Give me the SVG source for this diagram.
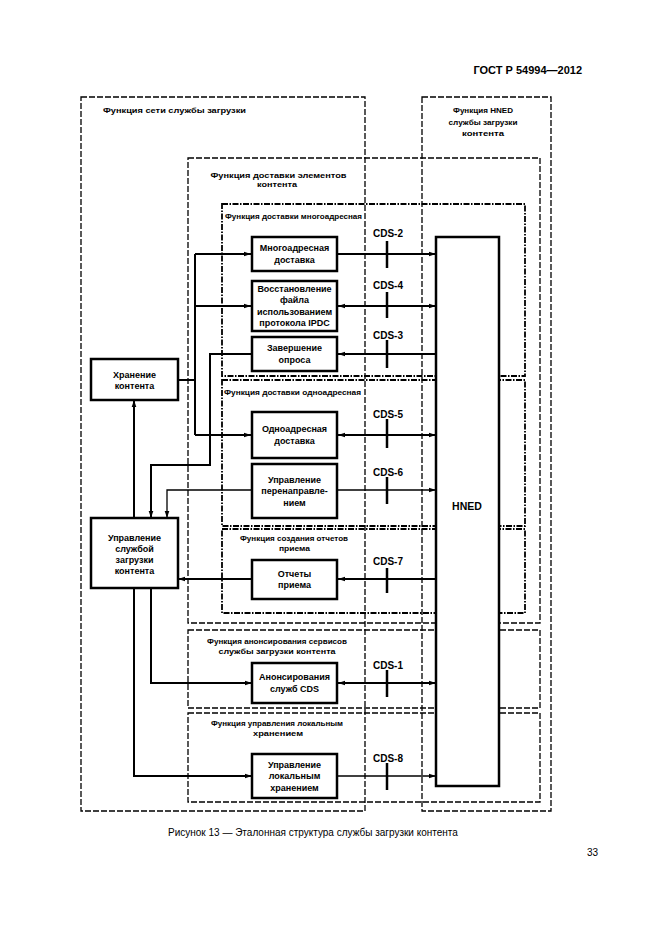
<svg xmlns="http://www.w3.org/2000/svg" width="661" height="935" viewBox="0 0 661 935">
<style>
text{font-family:"Liberation Sans",Arial,sans-serif;fill:#000}
.b{font-weight:bold}
.t{font-size:7.5px;font-weight:bold}
.m{text-anchor:middle}
.bx{font-size:9px;font-weight:bold;text-anchor:middle}
.cds{font-size:10px;font-weight:bold;text-anchor:middle}
.fa{fill:none;stroke:#000;stroke-width:1.3;stroke-dasharray:6 2}
.fb{fill:none;stroke:#000;stroke-width:1.8;stroke-dasharray:6 1.5 1.5 1.5}
.node{fill:#fff;stroke:#000;stroke-width:2.5}
.c{fill:none;stroke:#000;stroke-width:2}
.ct{fill:none;stroke:#000;stroke-width:1.3}
.tick{stroke:#000;stroke-width:2.5}
</style>
<defs>
<marker id="ah" markerUnits="userSpaceOnUse" markerWidth="8" markerHeight="6" refX="7" refY="3" orient="auto-start-reverse">
<path d="M0,0.7 L7,3 L0,5.3 Z" fill="#000"/>
</marker>
</defs>
<rect width="661" height="935" fill="#fff"/>
<text class="b" x="582" y="74" font-size="11" text-anchor="end">ГОСТ Р 54994—2012</text>

<g id="frames">
<rect class="fa" x="81" y="97" width="284" height="714"/>
<rect class="fa" x="422" y="97" width="129" height="714"/>
<rect class="fa" x="188" y="158" width="352" height="465"/>
<rect class="fb" x="222" y="204" width="303" height="172"/>
<rect class="fb" x="222" y="380" width="303" height="146"/>
<rect class="fb" x="222" y="529" width="303" height="84"/>
<rect class="fa" x="188" y="630" width="352" height="78"/>
<rect class="fa" x="188" y="713" width="352" height="89"/>
<text class="t" x="103" y="112.5" textLength="143" lengthAdjust="spacingAndGlyphs">Функция сети службы загрузки</text>
<text class="t m" x="483" y="113" font-size="8" textLength="60" lengthAdjust="spacingAndGlyphs">Функция HNED</text>
<text class="t m" x="483" y="125" textLength="69" lengthAdjust="spacingAndGlyphs">службы загрузки</text>
<text class="t m" x="483" y="136" textLength="42" lengthAdjust="spacingAndGlyphs">контента</text>
<text class="t m" x="278.5" y="177.5" textLength="136" lengthAdjust="spacingAndGlyphs">Функция доставки элементов</text>
<text class="t m" x="277" y="187" textLength="40" lengthAdjust="spacingAndGlyphs">контента</text>
<text class="t" x="225" y="218.5" textLength="137" lengthAdjust="spacingAndGlyphs">Функция доставки многоадресная</text>
<text class="t" x="224" y="394.5" textLength="137" lengthAdjust="spacingAndGlyphs">Функция доставки одноадресная</text>
<text class="t m" x="294" y="540.5" textLength="108" lengthAdjust="spacingAndGlyphs">Функция создания отчетов</text>
<text class="t m" x="294.5" y="550.5" textLength="31" lengthAdjust="spacingAndGlyphs">приема</text>
<text class="t m" x="277" y="643.5" textLength="140" lengthAdjust="spacingAndGlyphs">Функция анонсирования сервисов</text>
<text class="t m" x="277" y="653.5" textLength="117" lengthAdjust="spacingAndGlyphs">службы загрузки контента</text>
<text class="t m" x="277" y="725.5" textLength="132" lengthAdjust="spacingAndGlyphs">Функция управления локальным</text>
<text class="t m" x="278" y="735.5" textLength="50" lengthAdjust="spacingAndGlyphs">хранением</text>
</g>

<g id="connectors">
<path class="c" d="M178,380 H195 M195,254 V435"/>
<path class="c" d="M195,254 H251" marker-end="url(#ah)"/>
<path class="c" d="M195,306 H251" marker-end="url(#ah)"/>
<path class="c" d="M195,435 H251" marker-end="url(#ah)"/>
<path class="c" d="M337,254 H436" marker-end="url(#ah)"/>
<path class="c" d="M338,306 H436" marker-start="url(#ah)" marker-end="url(#ah)"/>
<path class="c" d="M436,354 H338" marker-end="url(#ah)"/>
<path class="c" d="M252,354 H210 V465 H151 V518" marker-end="url(#ah)"/>
<path class="c" d="M338,435 H436" marker-start="url(#ah)" marker-end="url(#ah)"/>
<path class="ct" d="M337,490 H436" marker-end="url(#ah)"/>
<path class="ct" d="M252,490 H167 V518" marker-end="url(#ah)"/>
<path class="c" d="M436,579 H338" marker-end="url(#ah)"/>
<path class="c" d="M252,579 H178" marker-end="url(#ah)"/>
<path class="c" d="M134,518 V400" marker-end="url(#ah)"/>
<path class="c" d="M151,588 V683 H252" marker-end="url(#ah)"/>
<path class="c" d="M338,683 H436" marker-start="url(#ah)" marker-end="url(#ah)"/>
<path class="c" d="M134,588 V776 H252" marker-end="url(#ah)"/>
<path class="ct" d="M337,776 H436" marker-end="url(#ah)"/>
<line class="tick" x1="387" y1="241" x2="387" y2="268"/>
<line class="tick" x1="387" y1="292" x2="387" y2="318"/>
<line class="tick" x1="387" y1="340" x2="387" y2="368"/>
<line class="tick" x1="387" y1="419" x2="387" y2="448"/>
<line class="tick" x1="387" y1="477" x2="387" y2="504"/>
<line class="tick" x1="387" y1="568" x2="387" y2="593"/>
<line class="tick" x1="387" y1="670" x2="387" y2="697"/>
<line class="tick" x1="387" y1="763" x2="387" y2="790"/>
<text class="cds" x="388" y="236.5">CDS-2</text>
<text class="cds" x="388" y="288.5">CDS-4</text>
<text class="cds" x="388" y="338.5">CDS-3</text>
<text class="cds" x="388" y="417.5">CDS-5</text>
<text class="cds" x="388" y="475.5">CDS-6</text>
<text class="cds" x="388" y="564.5">CDS-7</text>
<text class="cds" x="388" y="668.5">CDS-1</text>
<text class="cds" x="388" y="761.5">CDS-8</text>
</g>

<g id="hned">
<rect class="node" x="436" y="237" width="63" height="549"/>
<text class="b" x="467" y="510" font-size="10.5" text-anchor="middle">HNED</text>
</g>
<g id="storage">
<rect class="node" x="91" y="359" width="87" height="41"/>
<text class="bx" x="134.5" y="378.3">Хранение</text>
<text class="bx" x="134.5" y="389.3">контента</text>
</g>
<g id="management">
<rect class="node" x="91" y="518" width="87" height="70"/>
<text class="bx" x="134.5" y="541.3">Управление</text>
<text class="bx" x="134.5" y="552.3">службой</text>
<text class="bx" x="134.5" y="563.3">загрузки</text>
<text class="bx" x="134.5" y="573.8">контента</text>
</g>
<g id="multicast">
<rect class="node" x="252" y="237" width="85" height="34"/>
<text class="bx" x="294.5" y="251.3">Многоадресная</text>
<text class="bx" x="294.5" y="262.8">доставка</text>
</g>
<g id="recovery">
<rect class="node" x="252" y="281" width="85" height="50"/>
<text class="bx" x="294.5" y="291.8">Восстановление</text>
<text class="bx" x="294.5" y="303.3">файла</text>
<text class="bx" x="294.5" y="314.8">использованием</text>
<text class="bx" x="294.5" y="326.3">протокола IPDC</text>
</g>
<g id="polling">
<rect class="node" x="252" y="337" width="85" height="34"/>
<text class="bx" x="294.5" y="351.3">Завершение</text>
<text class="bx" x="294.5" y="362.8">опроса</text>
</g>
<g id="unicast">
<rect class="node" x="252" y="412" width="85" height="46"/>
<text class="bx" x="294.5" y="432.3">Одноадресная</text>
<text class="bx" x="294.5" y="443.8">доставка</text>
</g>
<g id="redirect">
<rect class="node" x="252" y="464" width="85" height="54"/>
<text class="bx" x="294.5" y="482.6">Управление</text>
<text class="bx" x="294.5" y="494.1">перенаправле-</text>
<text class="bx" x="294.5" y="505.6">нием</text>
</g>
<g id="reports">
<rect class="node" x="252" y="560" width="85" height="39"/>
<text class="bx" x="294.5" y="576.8">Отчеты</text>
<text class="bx" x="294.5" y="588.3">приема</text>
</g>
<g id="announce">
<rect class="node" x="252" y="663" width="85" height="40"/>
<text class="bx" x="294.5" y="680.3">Анонсирования</text>
<text class="bx" x="294.5" y="691.8">служб CDS</text>
</g>
<g id="localstorage">
<rect class="node" x="252" y="754" width="85" height="44"/>
<text class="bx" x="294.5" y="767.6">Управление</text>
<text class="bx" x="294.5" y="779.1">локальным</text>
<text class="bx" x="294.5" y="790.6">хранением</text>
</g>

<text x="168" y="836" font-size="10">Рисунок 13 — Эталонная структура службы загрузки контента</text>
<text x="598" y="856" font-size="10" text-anchor="end">33</text>
</svg>
